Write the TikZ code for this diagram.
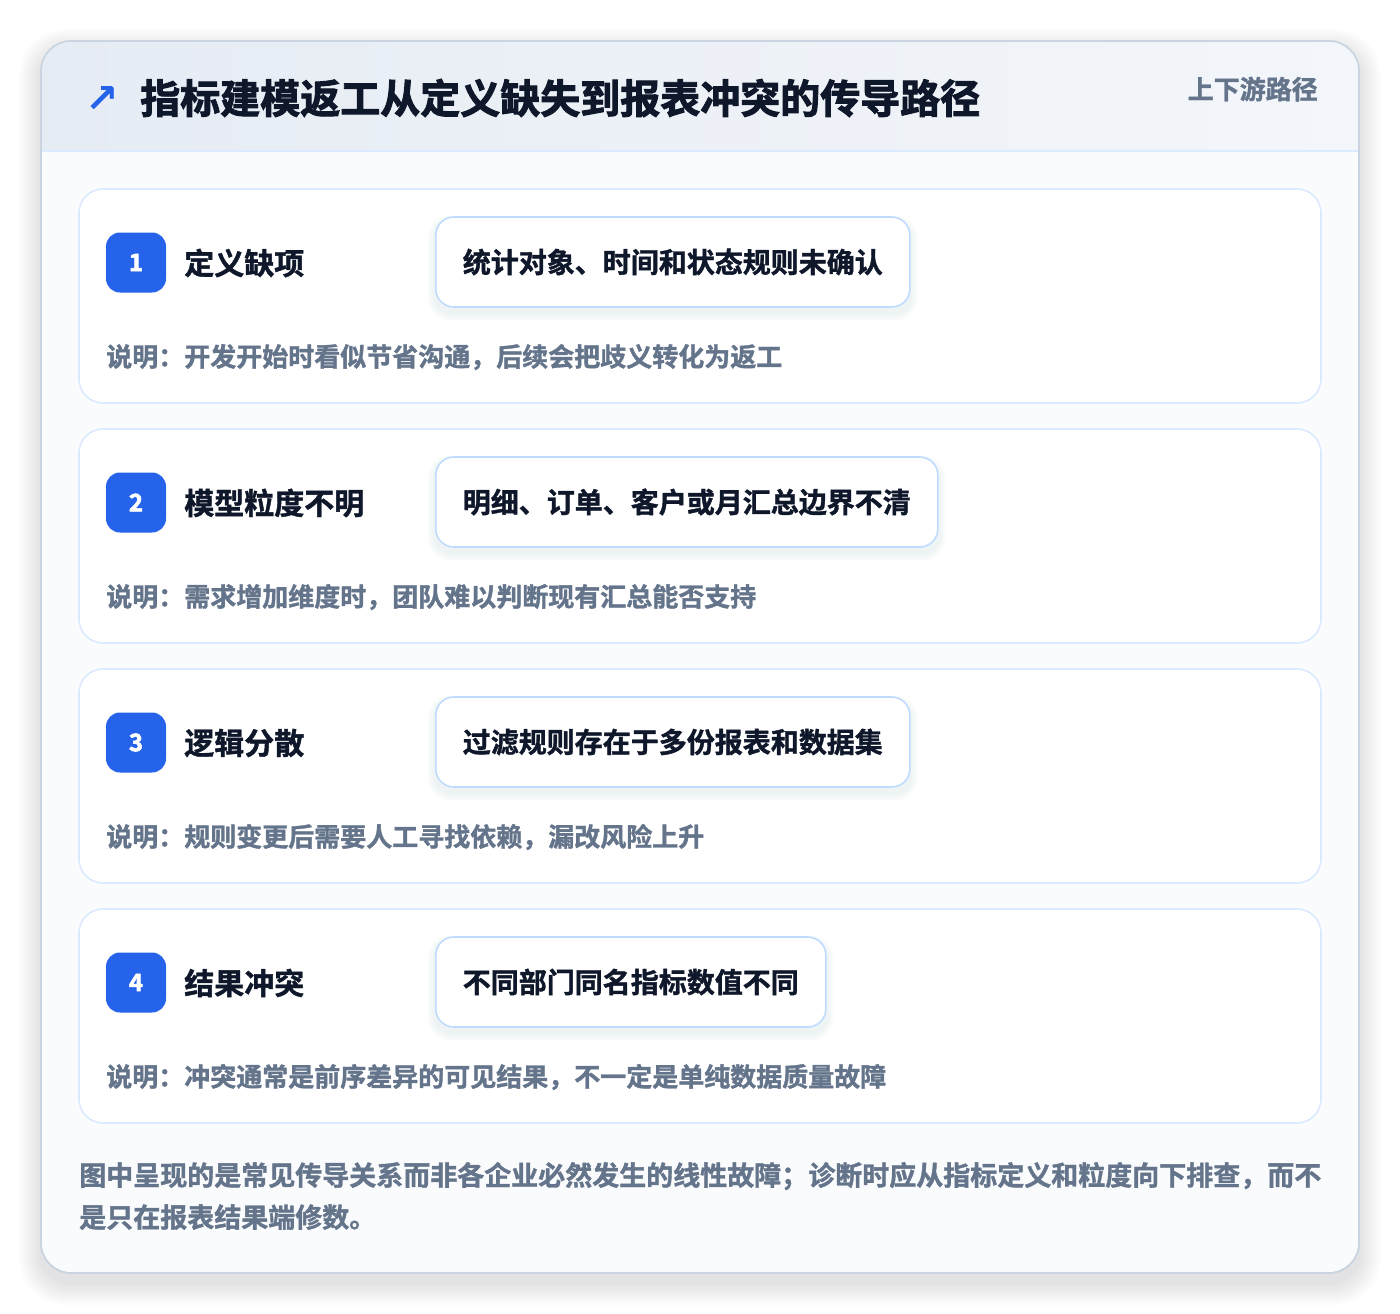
\documentclass[tikz,border=0pt]{standalone}
\usepackage{fontspec}
\setmainfont{Noto Sans CJK SC}[BoldFont={* Bold}, BoldFeatures={FakeBold=1.3}]
\newfontfamily\heavy{Noto Sans CJK SC Bold}[FakeBold=2.4]
\newfontfamily\djv{DejaVu Sans}
\definecolor{ink}{HTML}{0F172A}
\definecolor{muted}{HTML}{64748B}
\definecolor{accent}{HTML}{2563EB}
\definecolor{cardline}{HTML}{DBEAFE}
\definecolor{pillline}{HTML}{BFDBFE}
\definecolor{frameline}{HTML}{CBD5E1}
\definecolor{hdrL}{HTML}{E6ECF4}
\definecolor{hdrR}{HTML}{F3F6FA}
\definecolor{bodybg}{HTML}{FAFBFD}
\definecolor{shadowc}{HTML}{475569}
\tikzset{
  frame/.style={draw=frameline, line width=1.2pt, fill=bodybg, rounded corners=22.5pt,
    minimum width=988.5pt, minimum height=924pt, inner sep=0pt},
  card/.style={draw=cardline, line width=1.2pt, fill=white, rounded corners=18pt,
    minimum width=931.5pt, minimum height=160.5pt, inner sep=0pt},
  badge/.style={fill=accent, rounded corners=10.5pt, minimum width=45pt, minimum height=45pt,
    inner sep=0pt, text=white, font=\heavy\fontsize{18}{20}\selectfont},
  label/.style={anchor=west, inner sep=0pt, text=ink, font=\bfseries\fontsize{22.5}{26}\selectfont},
  pill/.style={anchor=west, draw=pillline, line width=1.2pt, fill=white, rounded corners=13.5pt,
    minimum height=67.5pt, inner xsep=20.25pt, inner ysep=0pt, text=ink,
    font=\bfseries\fontsize{21}{24}\selectfont},
  desc/.style={anchor=west, inner sep=0pt, text=muted, font=\bfseries\fontsize{19.5}{23}\selectfont},
  note/.style={anchor=west, inner sep=0pt, text=muted, font=\bfseries\fontsize{20.25}{31.5}\selectfont, align=left},
}
\begin{document}
\begin{tikzpicture}[x=0.75pt, y=-0.75pt]
\useasboundingbox (0,0) rectangle (1400,1314);
\fill[white] (0,0) rectangle (1400,1314);
% soft shadow of the frame
\foreach \k in {1,...,14}{
  \fill[shadowc, opacity=0.009, rounded corners=22.5pt+\k*0.9pt]
    (41-1.6*\k,41-1.6*\k+10) rectangle (1359+1.6*\k,1273+1.6*\k+10);
}
\node[frame] (frame) at (700,657) {};
\begin{scope}
  \clip[rounded corners=22.5pt] (41,41) rectangle (1359,1273);
  \shade[left color=hdrL, right color=hdrR] (41,41) rectangle (1359,151);
\end{scope}
\draw[cardline, line width=1.2pt] (41,151) -- (1359,151);
\draw[frameline, line width=1.2pt, rounded corners=22.5pt] (41,41) rectangle (1359,1273);

\node[inner sep=0pt, text=accent, font=\djv\bfseries\fontsize{30}{34}\selectfont] (arrow) at (102,99) {↗};
\node[anchor=west, inner sep=0pt, text=ink, font=\heavy\fontsize{30}{34}\selectfont] (title) at (140,98) {指标建模返工从定义缺失到报表冲突的传导路径};
\node[anchor=east, inner sep=0pt, text=muted, font=\bfseries\fontsize{19.5}{23}\selectfont] (tag) at (1318,89) {上下游路径};

\foreach \i/\name/\claim/\why in {
  1/定义缺项/统计对象、时间和状态规则未确认/说明：开发开始时看似节省沟通，后续会把歧义转化为返工,
  2/模型粒度不明/明细、订单、客户或月汇总边界不清/说明：需求增加维度时，团队难以判断现有汇总能否支持,
  3/逻辑分散/过滤规则存在于多份报表和数据集/说明：规则变更后需要人工寻找依赖，漏改风险上升,
  4/结果冲突/不同部门同名指标数值不同/说明：冲突通常是前序差异的可见结果，不一定是单纯数据质量故障}{
  \pgfmathsetmacro{\yy}{296+240*(\i-1)}
  \node[card] (card\i) at (700,\yy) {};
  \node[badge] (badge\i) at (136,\yy-33.5) {\i};
  \node[label] (label\i) at (184,\yy-33) {\name};
  \node[pill, draw=none, fill=none, text=white, opacity=0] (ghost\i) at (435,\yy-34) {\claim};
  \foreach \k in {1,...,6}{
    \fill[shadowc, opacity=0.011, rounded corners=13.5pt+\k*0.6pt]
      ([shift={(-1.2*\k,-1.2*\k+6)}]ghost\i.north west) rectangle ([shift={(1.2*\k,1.2*\k+6)}]ghost\i.south east);
  }
  \node[pill] (pill\i) at (435,\yy-34) {\claim};
  \node[desc] (desc\i) at (106,\yy+61) {\why};
}

\node[note] (note) at (79,1196) {图中呈现的是常见传导关系而非各企业必然发生的线性故障；诊断时应从指标定义和粒度向下排查，而不\\是只在报表结果端修数。};
\end{tikzpicture}
\end{document}
